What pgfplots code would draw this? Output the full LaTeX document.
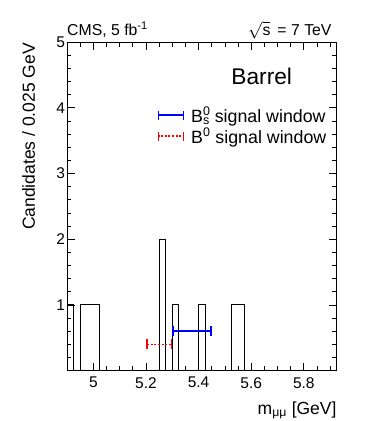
\documentclass[border=0pt]{standalone}
\usepackage{fontspec}
\setmainfont{Liberation Sans}
\usepackage{pgfplots}
\usepackage{pgfplotstable}
\pgfplotsset{compat=1.18}
\usetikzlibrary{arrows.meta}

\definecolor{winblue}{RGB}{0,0,255}
\definecolor{winred}{RGB}{255,0,0}

% counts per 0.025 GeV bin (lower edge, entries); last row closes the outline
\pgfplotstableread{
x      n
4.900  1
4.925  0
4.950  1
4.975  1
5.000  1
5.025  0
5.050  0
5.075  0
5.100  0
5.125  0
5.150  0
5.175  0
5.200  0
5.225  0
5.250  2
5.275  0
5.300  1
5.325  0
5.350  0
5.375  0
5.400  1
5.425  0
5.450  0
5.475  0
5.500  0
5.525  1
5.550  1
5.575  0
5.600  0
5.625  0
5.650  0
5.675  0
5.700  0
5.725  0
5.750  0
5.775  0
5.800  0
5.825  0
5.850  0
5.875  0
5.900  0
5.925  0
}\barrel

\tikzset{
  bswin/.style={draw=winblue, color=winblue, line width=1.6bp, {Bar[width=10bp]}-{Bar[width=10bp]}},
  bdwin/.style={draw=winred, color=winred, line width=1.6bp, dash pattern=on 2bp off 1.6bp, {Bar[width=10bp]}-{Bar[width=10bp]}},
}
% legend sample: a line with an end cap on each side, no arrow tips
\newcommand{\winsample}[2]{%
  \draw[arrows=-, draw=#1, line width=1.8bp, #2] (0bp,0bp) -- (26.7bp,0bp);
  \draw[arrows=-, draw=#1, line width=1.6bp, solid] (0.8bp,-4.5bp) -- (0.8bp,4.5bp);
  \draw[arrows=-, draw=#1, line width=1.6bp, solid] (25.9bp,-4.5bp) -- (25.9bp,4.5bp);}

\begin{document}
\begin{tikzpicture}
\useasboundingbox (-67bp,-50.3bp) rectangle (307bp,370.7bp);
\begin{axis}[
    scale only axis,
    width=269.7bp, height=328.7bp,
    xmin=4.9, xmax=5.925,
    ymin=0, ymax=5,
    axis line style={line width=0.8bp},
    tick style={line width=0.7bp, black},
    tick align=inside,
    major tick length=8bp,
    minor tick length=4.5bp,
    xtick={5,5.2,5.4,5.6,5.8},
    xticklabels={5,5.2,5.4,5.6,5.8},
    minor xtick={4.95,5.05,5.1,5.15,5.25,5.3,5.35,5.45,5.5,5.55,5.65,5.7,5.75,5.85,5.9},
    ytick={0,1,2,3,4,5},
    yticklabels={,1,2,3,4,5},
    minor ytick={0.2,0.4,0.6,0.8,1.2,1.4,1.6,1.8,2.2,2.4,2.6,2.8,3.2,3.4,3.6,3.8,4.2,4.4,4.6,4.8},
    ticklabel style={font=\fontsize{15.5bp}{18bp}\selectfont},
    xticklabel style={yshift=-3bp},
    yticklabel style={xshift=1.5bp},
    xlabel={m\textsubscript{μμ} [GeV]},
    ylabel={Candidates / 0.025 GeV},
    label style={font=\fontsize{17.5bp}{21bp}\selectfont},
    xlabel style={at={(rel axis cs:1,0)}, anchor=base east, yshift=-43.3bp, inner sep=0pt},
    ylabel style={at={(axis description cs:-0.1187,0.997)}, anchor=base east, inner sep=0pt},
    legend style={draw=none, fill=none, at={(rel axis cs:0.332,0.807)}, anchor=north west,
        font=\fontsize{17.8bp}{21bp}\selectfont, inner sep=0pt, row sep=1.5bp,
        nodes={inner xsep=5.5bp, inner ysep=1.5bp},
        /tikz/column 2/.style={column sep=0pt, nodes={inner xsep=0pt}}},
    legend cell align=left,
    clip=false,
]
\addplot[const plot mark left, black, line width=1bp, forget plot] table[x=x, y=n] {\barrel};
\addplot[bswin, legend image code/.code={\winsample{winblue}{solid}}]
    coordinates {(5.3,0.6) (5.45,0.6)};
\addlegendentry{\hspace{6bp}B\rlap{\textsuperscript{0}}\textsubscript{s} signal window}
\addplot[bdwin, legend image code/.code={\winsample{winred}{dash pattern=on 2bp off 1.6bp}}]
    coordinates {(5.2,0.4) (5.3,0.4)};
\addlegendentry{\hspace{6bp}B\textsuperscript{0} signal window}
\node[font=\fontsize{22.7bp}{26bp}\selectfont] at (axis cs:5.64,4.47) {Barrel};
\node[anchor=base west, inner sep=0pt, font=\fontsize{15.8bp}{18bp}\selectfont] at ([yshift=6.5bp]rel axis cs:0,1) {CMS, 5 fb\textsuperscript{-1}};
\node[anchor=base east, inner sep=0pt, font=\fontsize{15.8bp}{18bp}\selectfont] at ([xshift=-5bp, yshift=6.5bp]rel axis cs:1,1) {$\sqrt{\mbox{s}}$\, = 7 TeV};
\end{axis}
\end{tikzpicture}
\end{document}
